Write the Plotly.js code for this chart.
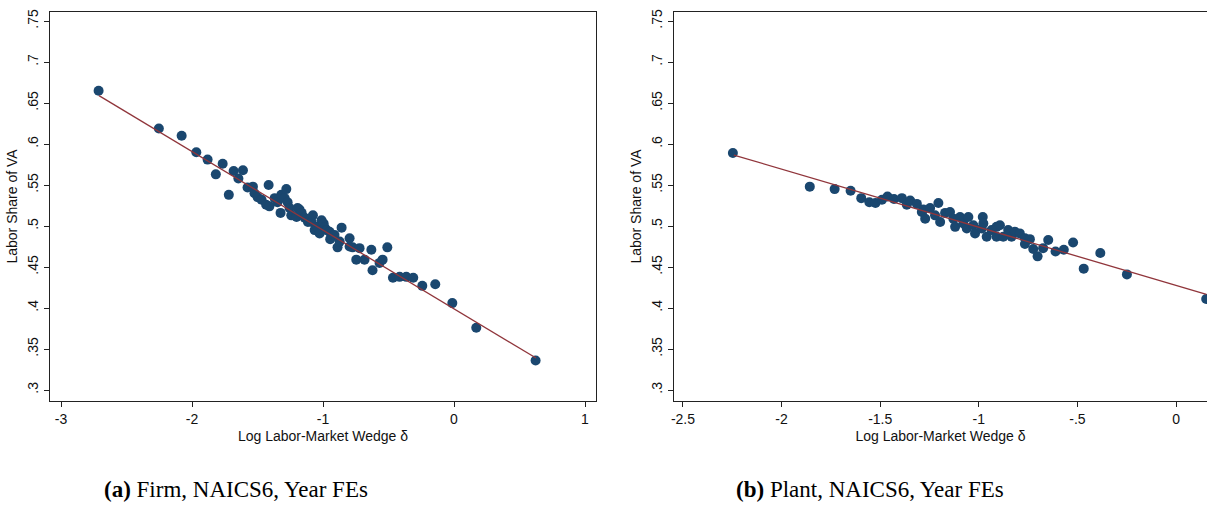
<!DOCTYPE html>
<html>
<head>
<meta charset="utf-8">
<script src="https://cdn.plot.ly/plotly-3.0.1.min.js"></script>
<style>
  html, body { margin: 0; padding: 0; background: #fff; overflow: hidden; }
  #chart { width: 1207px; height: 511px; }
</style>
</head>
<body>
<div id="chart"></div>
<script>
// ---------- Panel (a): Firm, NAICS6, Year FEs ----------
const firmX = [-2.713, -2.253, -2.079, -1.967, -1.881, -1.818, -1.766, -1.719, -1.682, -1.646,
  -1.611, -1.576, -1.535, -1.523, -1.499, -1.469, -1.434, -1.415, -1.409, -1.369,
  -1.347, -1.324, -1.318, -1.293, -1.280, -1.270, -1.255, -1.242, -1.202, -1.194,
  -1.179, -1.163, -1.140, -1.115, -1.087, -1.077, -1.064, -1.041, -1.026, -1.011,
  -0.995, -0.988, -0.973, -0.950, -0.945, -0.912, -0.889, -0.873, -0.858, -0.797,
  -0.797, -0.774, -0.746, -0.721, -0.683, -0.631, -0.622, -0.568, -0.545, -0.509,
  -0.466, -0.415, -0.364, -0.311, -0.242, -0.143, -0.013, 0.170, 0.623];
const firmY = [0.665, 0.619, 0.610, 0.590, 0.581, 0.563, 0.576, 0.538, 0.567, 0.558,
  0.568, 0.547, 0.548, 0.540, 0.535, 0.532, 0.526, 0.550, 0.524, 0.534,
  0.529, 0.516, 0.538, 0.534, 0.545, 0.529, 0.522, 0.513, 0.511, 0.522,
  0.520, 0.516, 0.510, 0.505, 0.505, 0.513, 0.495, 0.499, 0.491, 0.507,
  0.503, 0.498, 0.495, 0.493, 0.484, 0.489, 0.474, 0.481, 0.498, 0.485,
  0.475, 0.474, 0.459, 0.473, 0.459, 0.471, 0.446, 0.455, 0.459, 0.474,
  0.437, 0.438, 0.438, 0.437, 0.427, 0.429, 0.406, 0.376, 0.336];
const firmFitX = [-2.71, 0.626];
const firmFitY = [0.659, 0.339];

// ---------- Panel (b): Plant, NAICS6, Year FEs ----------
const plantX = [-2.247, -1.857, -1.731, -1.650, -1.596, -1.555, -1.524, -1.491, -1.463, -1.430,
  -1.390, -1.365, -1.348, -1.314, -1.289, -1.281, -1.272, -1.247, -1.222, -1.205,
  -1.196, -1.171, -1.146, -1.129, -1.120, -1.095, -1.078, -1.061, -1.053, -1.028,
  -1.019, -0.980, -0.977, -0.985, -0.960, -0.935, -0.910, -0.893, -0.910, -0.876,
  -0.851, -0.834, -0.817, -0.792, -0.766, -0.741, -0.766, -0.724, -0.702, -0.674,
  -0.648, -0.611, -0.569, -0.522, -0.468, -0.384, -0.249, 0.153];
const plantY = [0.589, 0.548, 0.545, 0.543, 0.534, 0.529, 0.528, 0.532, 0.536, 0.533,
  0.534, 0.526, 0.531, 0.527, 0.517, 0.520, 0.509, 0.522, 0.513, 0.528,
  0.505, 0.516, 0.517, 0.509, 0.499, 0.511, 0.503, 0.497, 0.511, 0.501,
  0.491, 0.511, 0.503, 0.497, 0.487, 0.495, 0.499, 0.501, 0.487, 0.487,
  0.495, 0.487, 0.493, 0.491, 0.485, 0.484, 0.478, 0.472, 0.463, 0.473,
  0.483, 0.469, 0.471, 0.480, 0.448, 0.467, 0.441, 0.411];
const plantFitX = [-2.242, 0.154];
const plantFitY = [0.5866, 0.4167];

// ---------- Tick labels ----------
const yTickVals = [0.3, 0.35, 0.4, 0.45, 0.5, 0.55, 0.6, 0.65, 0.7, 0.75];
const yTickText = ['.3', '.35', '.4', '.45', '.5', '.55', '.6', '.65', '.7', '.75'];
const xTickValsA = [-3, -2, -1, 0, 1];
const xTickTextA = ['-3', '-2', '-1', '0', '1'];
const xTickValsB = [-2.5, -2, -1.5, -1, -0.5, 0];
const xTickTextB = ['-2.5', '-2', '-1.5', '-1', '-.5', '0'];

const xTitle = 'Log Labor-Market Wedge δ';
const yTitle = 'Labor Share of VA';
const captionA = '<b>(a)</b> Firm, NAICS6, Year FEs';
const captionB = '<b>(b)</b> Plant, NAICS6, Year FEs';

const navy = '#1a476f';
const maroon = '#90353b';
const W = 1207, H = 511;

const traces = [
  { x: firmX, y: firmY, type: 'scatter', mode: 'markers', xaxis: 'x', yaxis: 'y',
    marker: { color: navy, size: 10, line: { width: 0 } } },
  { x: firmFitX, y: firmFitY, type: 'scatter', mode: 'lines', xaxis: 'x', yaxis: 'y',
    line: { color: maroon, width: 1.3 } },
  { x: plantX, y: plantY, type: 'scatter', mode: 'markers', xaxis: 'x2', yaxis: 'y2',
    marker: { color: navy, size: 10, line: { width: 0 } } },
  { x: plantFitX, y: plantFitY, type: 'scatter', mode: 'lines', xaxis: 'x2', yaxis: 'y2',
    line: { color: maroon, width: 1.3 } }
];

const tickFont = { family: 'Liberation Sans, Arial, sans-serif', size: 14, color: '#111' };
const titleFont = { family: 'Liberation Sans, Arial, sans-serif', size: 14, color: '#111' };

function xAxis(domain, range, vals, text, mirror) {
  return {
    domain: domain, range: range, tickvals: vals, ticktext: text,
    showgrid: false, zeroline: false, showline: true, linecolor: '#222', linewidth: 1,
    mirror: mirror, ticks: 'outside', ticklen: 5, tickcolor: '#222', tickwidth: 1,
    tickfont: tickFont, title: { text: xTitle, font: titleFont, standoff: 5 },
    automargin: false, fixedrange: true
  };
}
function yAxis(anchor, mirror) {
  return {
    anchor: anchor, domain: [1 - 401 / H, 1 - 12 / H], range: [0.2866, 0.761],
    tickvals: yTickVals, ticktext: yTickText, tickangle: -90,
    showgrid: false, zeroline: false, showline: true, linecolor: '#222', linewidth: 1,
    mirror: mirror, ticks: 'outside', ticklen: 5, tickcolor: '#222', tickwidth: 1,
    tickfont: tickFont, title: { text: yTitle, font: titleFont, standoff: 4 },
    automargin: false, fixedrange: true
  };
}

const layout = {
  width: W, height: H,
  margin: { l: 0, r: 0, t: 0, b: 0 },
  paper_bgcolor: '#fff', plot_bgcolor: '#fff',
  showlegend: false,
  xaxis: Object.assign(xAxis([50 / W, 596 / W], [-3.084, 1.084], xTickValsA, xTickTextA, true), { anchor: 'y' }),
  yaxis: yAxis('x', true),
  xaxis2: Object.assign(xAxis([674 / W, 1], [-2.5455, 0.157], xTickValsB, xTickTextB, true), { anchor: 'y2' }),
  yaxis2: yAxis('x2', false),
  annotations: [
    { text: captionA, xref: 'paper', yref: 'paper', x: 236 / W, y: 1 - 489 / H,
      xanchor: 'center', yanchor: 'middle', showarrow: false,
      font: { family: 'Liberation Serif, DejaVu Serif, serif', size: 23, color: '#000' } },
    { text: captionB, xref: 'paper', yref: 'paper', x: 870 / W, y: 1 - 489 / H,
      xanchor: 'center', yanchor: 'middle', showarrow: false,
      font: { family: 'Liberation Serif, DejaVu Serif, serif', size: 23, color: '#000' } }
  ]
};

Plotly.newPlot('chart', traces, layout, { displayModeBar: false, staticPlot: true });
</script>
</body>
</html>
